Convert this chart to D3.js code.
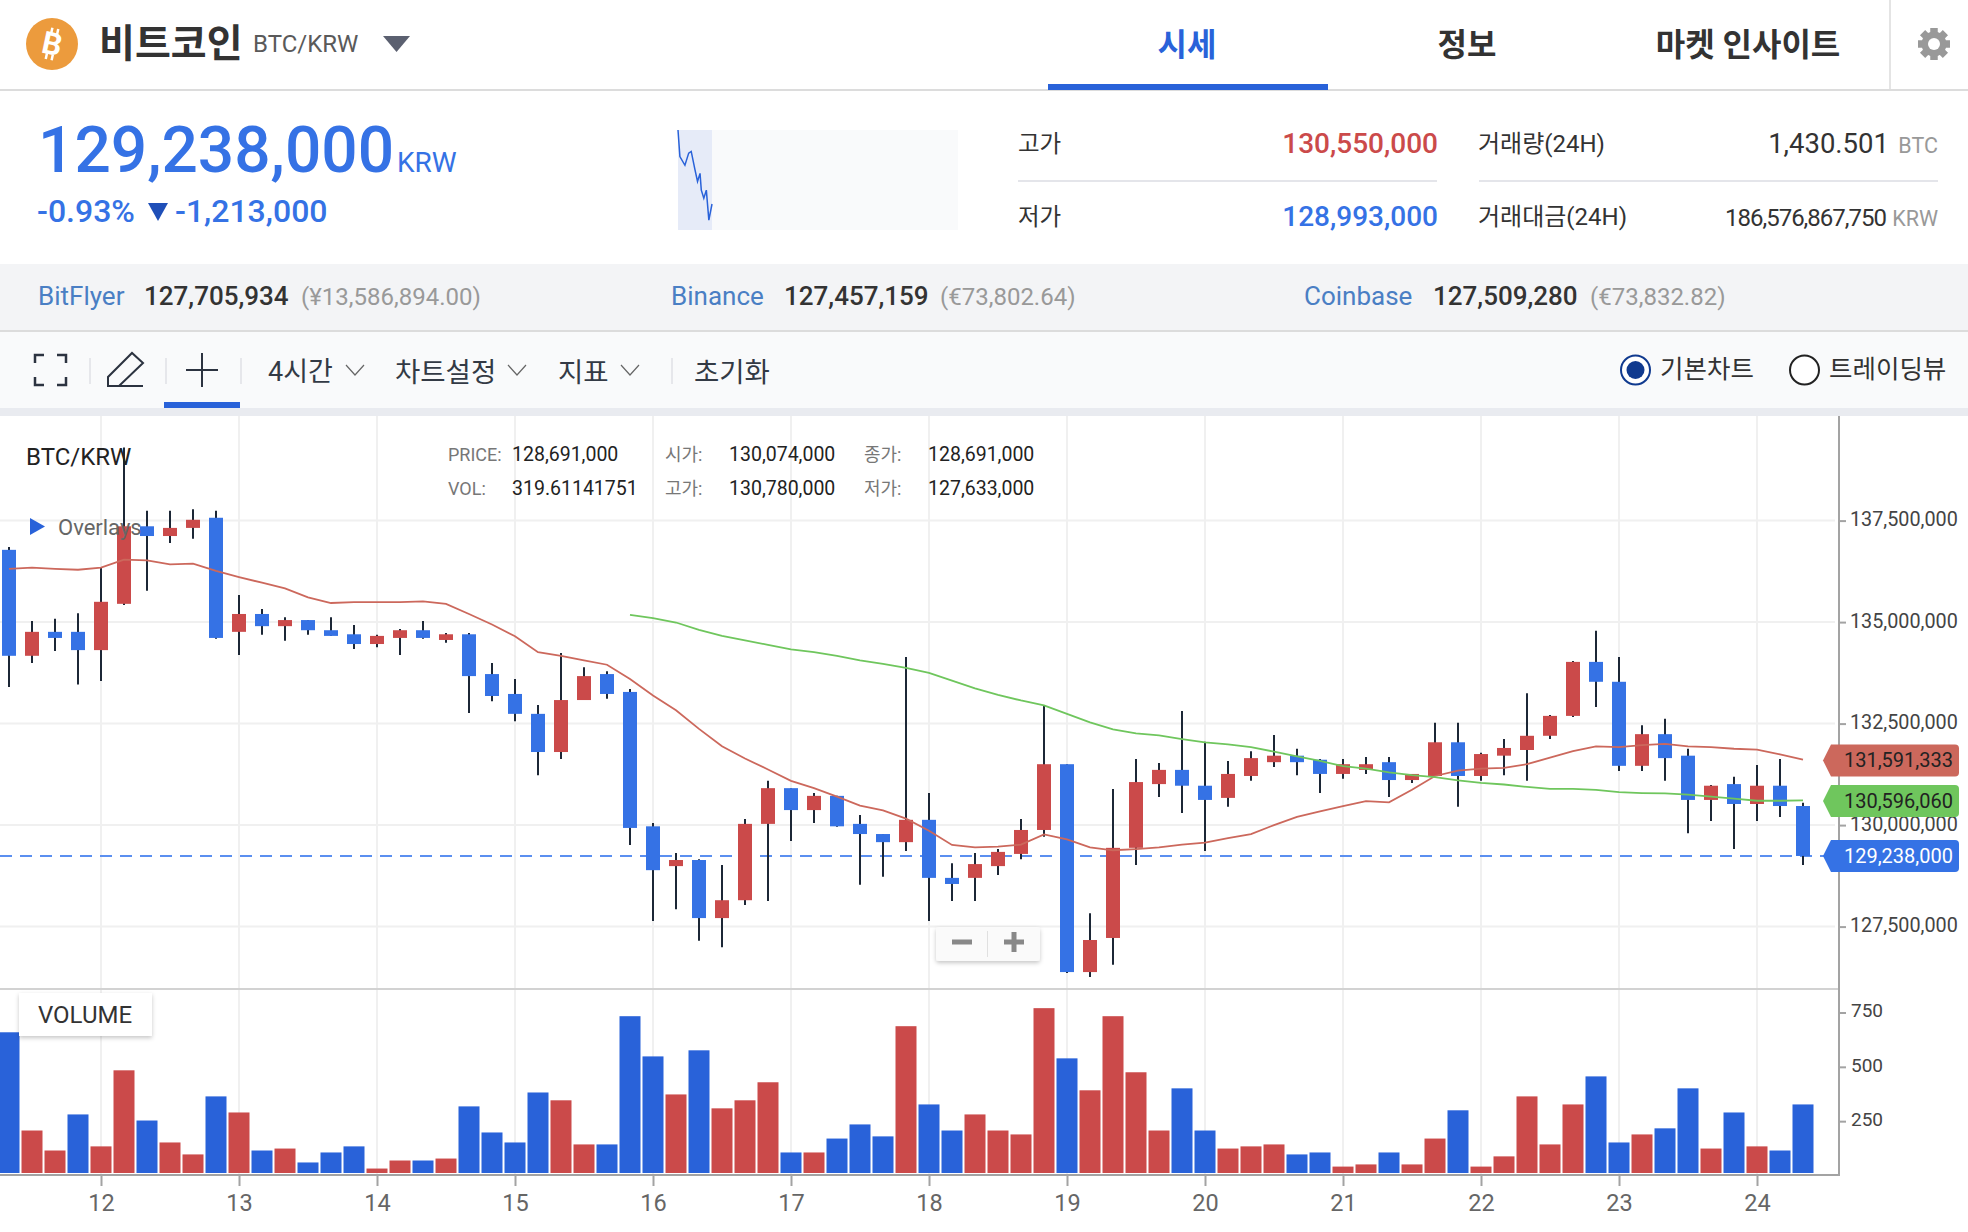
<!DOCTYPE html>
<html lang="ko">
  <head>
    <meta charset="UTF-8" />
    <title>BTC/KRW</title>
    <script src="https://d3js.org/d3.v7.min.js"></script>
    <style>
      html, body { margin: 0; padding: 0; background: #fff; }
      svg { display: block; }
      text { font-family: Roboto, "Noto Sans CJK KR", sans-serif; }
    </style>
  </head>
  <body>
    <div id="chart-container"></div>

    <script>
      // Candle values, millions of KRW, 4 hour candles
      const opens = [136.78,134.17,134.76,134.76,134.31,135.45,137.36,137.12,137.32,137.57,
        134.76,135.20,134.90,135.05,134.80,134.70,134.46,134.61,134.80,134.56,
        134.70,133.72,133.23,132.74,131.80,133.08,133.72,133.28,129.97,128.99,
        129.14,127.71,128.15,130.03,130.91,130.37,130.72,130.03,129.78,129.58,
        130.13,128.70,128.70,128.99,129.29,129.88,131.50,126.38,127.22,129.44,
        131.01,131.36,130.97,130.67,131.21,131.55,131.71,131.61,131.26,131.36,
        131.55,131.11,131.21,132.04,131.21,131.71,131.85,132.20,132.69,134.02,
        133.53,131.46,132.24,131.71,130.62,131.01,130.52,130.97,130.47];
      const closes = [134.17,134.76,134.61,134.31,135.50,137.36,137.12,137.32,137.52,134.61,
        135.20,134.90,135.05,134.80,134.66,134.46,134.66,134.80,134.61,134.70,
        133.67,133.18,132.74,131.80,133.08,133.67,133.23,129.93,128.89,129.14,
        127.71,128.15,130.03,130.91,130.37,130.72,129.97,129.78,129.58,130.13,
        128.70,128.55,129.04,129.34,129.88,131.50,126.38,127.17,129.44,131.06,
        131.36,130.97,130.62,131.26,131.65,131.71,131.55,131.26,131.50,131.50,
        131.11,131.26,132.04,131.21,131.75,131.90,132.20,132.69,134.02,133.53,
        131.46,132.24,131.65,130.62,130.97,130.52,130.97,130.47,129.24];
      const highs = [136.85,135.03,135.08,135.22,136.34,139.30,137.74,137.74,137.78,137.74,
        135.67,135.32,135.12,135.05,135.12,134.93,134.69,134.83,135.03,134.73,
        134.73,133.99,133.60,132.96,134.24,133.89,133.79,133.35,130.05,129.31,
        129.16,129.02,130.15,131.09,130.91,130.79,130.72,130.25,129.78,134.14,
        130.79,129.06,129.31,129.41,130.15,132.94,131.50,127.83,130.89,131.63,
        131.53,132.81,132.05,131.58,131.82,132.22,131.88,131.63,131.63,131.68,
        131.68,131.26,132.52,132.52,131.78,132.12,133.25,132.71,134.04,134.79,
        134.14,132.46,132.62,131.88,130.99,131.19,131.48,131.63,130.55];
      const lows = [133.40,133.99,134.29,133.46,133.55,135.42,135.77,136.95,137.05,134.59,
        134.19,134.69,134.54,134.69,134.66,134.34,134.38,134.19,134.59,134.49,
        132.76,133.05,132.56,131.23,131.63,133.08,133.11,129.51,127.64,127.93,
        127.15,126.99,128.03,128.13,129.61,130.05,129.96,128.53,128.73,129.36,
        127.64,128.13,128.13,128.77,129.16,129.71,126.36,126.26,126.56,129.02,
        130.69,130.30,129.36,130.45,131.09,131.43,131.23,130.79,131.14,131.26,
        130.69,131.04,131.21,130.45,131.09,131.23,131.09,132.12,132.66,132.91,
        131.33,131.33,131.09,129.80,130.10,129.41,130.10,130.20,129.02];

      // Moving averages, green one starts at candle 27
      const maShort = [136.31,136.34,136.31,136.29,136.34,136.54,136.52,136.42,136.44,136.26,
        136.11,135.97,135.83,135.61,135.47,135.49,135.49,135.49,135.51,135.45,
        135.20,134.94,134.65,134.26,134.17,134.06,133.95,133.60,133.19,132.83,
        132.37,131.94,131.64,131.37,131.09,130.91,130.70,130.48,130.36,130.16,
        129.86,129.51,129.45,129.47,129.52,129.77,129.65,129.45,129.38,129.41,
        129.45,129.52,129.57,129.68,129.78,130.00,130.20,130.34,130.47,130.59,
        130.56,130.87,131.21,131.34,131.39,131.41,131.50,131.66,131.82,131.94,
        131.92,131.97,132.00,131.94,131.92,131.88,131.86,131.74,131.61];
      const maLong = [135.18,135.10,134.99,134.81,134.66,134.55,134.44,134.33,134.26,134.17,
        134.06,133.97,133.87,133.75,133.56,133.37,133.21,133.07,132.95,132.74,
        132.53,132.36,132.26,132.21,132.12,132.04,131.99,131.92,131.81,131.69,
        131.58,131.45,131.39,131.30,131.23,131.18,131.10,131.04,131.00,130.94,
        130.89,130.89,130.87,130.81,130.79,130.78,130.75,130.70,130.65,130.60,
        130.60,130.61];
      const maLongStart = 27;

      const volumes = [659,207,115,281,134,484,253,152,97,364,
        290,115,124,60,106,134,32,69,69,78,
        318,198,152,382,346,143,143,733,548,373,
        576,309,346,429,106,106,170,235,180,687,
        327,207,281,207,189,770,539,392,733,475,
        207,401,207,124,134,143,97,106,41,51,
        106,51,170,300,41,88,364,143,327,456,
        152,189,217,401,124,290,134,115,327];
      const volumeUp = [0,1,1,0,1,1,0,1,1,0,1,0,1,0,0,0,1,1,0,1,
        0,0,0,0,1,1,0,0,0,1,0,1,1,1,0,1,0,0,0,1,
        0,0,1,1,1,1,0,1,1,1,1,0,0,1,1,1,0,0,1,1,
        0,1,1,0,1,1,1,1,1,0,0,1,0,0,1,0,1,0,0];

      const dayLabels = [12,13,14,15,16,17,18,19,20,21,22,23,24];
      const dayCandles = [4,10,16,22,28,34,40,46,52,58,64,70,76];
      const priceTicks = [127.5,130,132.5,135,137.5];
      const volumeTicks = [250,500,750];

      const lastShort = 131.591333;
      const lastLong = 130.59606;
      const lastPrice = 129.238;

      // Mini chart in the header
      const sparkTimes = [0,3,11,17,21,27,31,35,37,41,45,49,54];
      const sparkPrices = [130.55,130.09,129.94,130.15,130.18,129.86,129.66,129.80,129.51,129.37,129.51,128.99,129.27];

      const BLUE = "#3572e5";
      const DEEP_BLUE = "#2962d9";
      const RED = "#cb4a4a";
      const GRID = "#f0f0f0";
      const AXIS = "#a3a3a3";

      const svg = d3
        .select("#chart-container")
        .append("svg")
        .attr("width", 1968)
        .attr("height", 1232);

      const defs = svg.append("defs");
      const shadow = defs.append("filter").attr("id", "shadow").attr("x", "-20%").attr("y", "-20%").attr("width", "140%").attr("height", "150%");
      shadow.append("feDropShadow").attr("dx", 0).attr("dy", 2).attr("stdDeviation", 2).attr("flood-color", "#000").attr("flood-opacity", 0.22);

      function label(x, y, str, size, color, opts = {}) {
        return svg
          .append("text")
          .attr("x", x)
          .attr("y", y)
          .attr("font-size", size)
          .attr("fill", color)
          .attr("font-weight", opts.weight || 400)
          .attr("text-anchor", opts.anchor || "start")
          .attr("dominant-baseline", opts.middle ? "central" : "auto")
          .attr("letter-spacing", opts.spacing || 0)
          .text(str);
      }
      function box(x, y, w, h, fill) {
        return svg.append("rect").attr("x", x).attr("y", y).attr("width", w).attr("height", h).attr("fill", fill);
      }

      // Backgrounds of the page bands
      box(0, 89, 1968, 2, "#dcdcdc");
      box(0, 264, 1968, 66, "#f3f4f6");
      box(0, 330, 1968, 2, "#dcdcdc");
      box(0, 332, 1968, 76, "#f9fafb");
      box(0, 408, 1968, 8, "#e9ebf0");

      // Header: logo, name, tabs
      svg.append("ellipse").attr("cx", 52).attr("cy", 44).attr("rx", 26).attr("ry", 26).attr("fill", "#ec9b3d");
      const logo = svg.append("g").attr("transform", "translate(52,44) rotate(12)");
      logo.append("text").attr("text-anchor", "middle").attr("dominant-baseline", "central").attr("font-size", 31).attr("font-weight", 700).attr("fill", "#fff").text("B");
      logo.append("path").attr("d", "M-3,-16V-10M3,-16V-10M-3,10V16M3,10V16").attr("stroke", "#fff").attr("stroke-width", 2.5);

      label(99, 44, "비트코인", 39, "#333", { weight: 700, middle: true });
      label(253, 44, "BTC/KRW", 24, "#5a5a5a", { middle: true });
      svg.append("path").attr("d", "M383,36H410L396.5,52Z").attr("fill", "#5b6070");

      label(1187, 45, "시세", 32, DEEP_BLUE, { weight: 700, anchor: "middle", middle: true });
      label(1467, 45, "정보", 32, "#333", { weight: 700, anchor: "middle", middle: true });
      label(1748, 45, "마켓 인사이트", 32, "#333", { weight: 700, anchor: "middle", middle: true });
      box(1048, 84, 280, 6, DEEP_BLUE);
      box(1889, 0, 2, 89, "#e4e4e4");

      // Gear
      const gear = svg.append("g").attr("transform", "translate(1934,44)");
      d3.range(8).forEach((k) => {
        gear.append("rect").attr("x", -3.5).attr("y", -16).attr("width", 7).attr("height", 32).attr("fill", "#999").attr("transform", "rotate(" + k * 45 + ")");
      });
      gear.append("circle").attr("r", 9).attr("fill", "none").attr("stroke", "#999").attr("stroke-width", 7);
      gear.append("circle").attr("r", 6).attr("fill", "#fff");

      // Current price block
      label(38, 172, "129,238,000", 64, BLUE, { weight: 500 });
      label(397, 172, "KRW", 28, BLUE);
      label(37, 222, "-0.93%", 32, BLUE, { weight: 500 });
      svg.append("path").attr("d", "M148,203H168L158,221Z").attr("fill", "#1f4fb8");
      label(175, 222, "-1,213,000", 32, BLUE, { weight: 500 });

      // Mini chart
      box(678, 130, 280, 100, "#f9fafb");
      box(678, 130, 34, 100, "#e6ebf8");
      const sparkX = d3.scaleLinear().domain([0, 54]).range([678, 712]);
      const sparkY = d3.scaleLinear().domain([128.993, 130.55]).range([220, 130]);
      svg
        .append("path")
        .datum(sparkPrices)
        .attr("fill", "none")
        .attr("stroke", DEEP_BLUE)
        .attr("stroke-width", 1.5)
        .attr("d", d3.line().x((d, i) => sparkX(sparkTimes[i])).y((d) => sparkY(d)));

      // Day statistics
      label(1018, 144, "고가", 23.5, "#333", { middle: true });
      label(1438, 153, "130,550,000", 28, RED, { weight: 500, anchor: "end" });
      label(1018, 217, "저가", 23.5, "#333", { middle: true });
      label(1438, 226, "128,993,000", 28, BLUE, { weight: 500, anchor: "end" });
      box(1018, 180, 419, 2, "#e4e5ea");
      label(1478, 144, "거래량(24H)", 24, "#333", { middle: true });
      label(1889, 153, "1,430.501", 27.5, "#333", { anchor: "end" });
      label(1938, 153, "BTC", 21.5, "#999", { anchor: "end" });
      box(1479, 180, 459, 2, "#e4e5ea");
      label(1478, 217, "거래대금(24H)", 24, "#333", { middle: true });
      label(1886, 226, "186,576,867,750", 24, "#333", { anchor: "end", spacing: -1 });
      label(1938, 226, "KRW", 21.5, "#999", { anchor: "end" });

      // Other exchanges
      label(38, 305, "BitFlyer", 26, "#4a7fc4");
      label(144, 305, "127,705,934", 26, "#333", { weight: 500 });
      label(301, 305, "(¥13,586,894.00)", 24, "#999");
      label(671, 305, "Binance", 26, "#4a7fc4");
      label(784, 305, "127,457,159", 26, "#333", { weight: 500 });
      label(940, 305, "(€73,802.64)", 24, "#999");
      label(1304, 305, "Coinbase", 26, "#4a7fc4");
      label(1433, 305, "127,509,280", 26, "#333", { weight: 500 });
      label(1590, 305, "(€73,832.82)", 24, "#999");

      // Toolbar icons and menus
      const iconStroke = { fill: "none", stroke: "#2c3340", "stroke-width": 2 };
      function icon(d, width, color) {
        const p = svg.append("path").attr("d", d);
        Object.entries(iconStroke).forEach(([k, v]) => p.attr(k, v));
        if (width) p.attr("stroke-width", width);
        if (color) p.attr("stroke", color);
      }
      icon("M35,363V355H44M57,355H66V363M66,377V385H57M44,385H35V377", 2.5);
      icon("M108,386V377L132,353L143,363L119,386ZM108,386H143");
      icon("M186,370H218M202,353V387");
      [89, 165, 240, 671].forEach((x) => box(x, 358, 2, 26, "#e6e7eb"));
      box(164, 402, 76, 6, DEEP_BLUE);
      label(268, 372, "4시간", 27, "#333a45", { middle: true });
      icon("M346,365L355,375L364,365", 1.2, "#666");
      label(395, 372, "차트설정", 27.5, "#333a45", { middle: true });
      icon("M508,365L517,375L526,365", 1.2, "#666");
      label(558, 372, "지표", 27.5, "#333a45", { middle: true });
      icon("M621,365L630,375L639,365", 1.2, "#666");
      label(694, 372, "초기화", 27.5, "#333a45", { middle: true });

      svg.append("circle").attr("cx", 1635.5).attr("cy", 370).attr("r", 14.5).attr("fill", "#fff").attr("stroke", "#103a8f").attr("stroke-width", 2);
      svg.append("circle").attr("cx", 1635.5).attr("cy", 370).attr("r", 9).attr("fill", "#103a8f");
      label(1660, 369, "기본차트", 25.5, "#333", { middle: true });
      svg.append("circle").attr("cx", 1804.5).attr("cy", 370).attr("r", 14.5).attr("fill", "#fff").attr("stroke", "#222").attr("stroke-width", 2);
      label(1829, 369, "트레이딩뷰", 25.5, "#333", { middle: true });

      // Scales
      const xScale = d3.scaleLinear().domain([0, 78]).range([9, 1803]);
      const yScale = d3.scaleLinear().domain([127.5, 137.5]).range([926.6, 520.6]);
      const volScale = d3.scaleLinear().domain([0, 750]).range([1175.5, 1012.5]);

      const PLOT_RIGHT = 1839;
      const PANEL_LINE = 989;
      const VOL_BOTTOM = 1175;

      // Grid
      svg
        .append("g")
        .selectAll("line")
        .data(dayCandles)
        .enter()
        .append("line")
        .attr("x1", (d) => xScale(d))
        .attr("x2", (d) => xScale(d))
        .attr("y1", 416)
        .attr("y2", VOL_BOTTOM)
        .attr("stroke", GRID)
        .attr("stroke-width", 2);
      svg
        .append("g")
        .selectAll("line")
        .data(priceTicks)
        .enter()
        .append("line")
        .attr("x1", 0)
        .attr("x2", 1835)
        .attr("y1", (d) => yScale(d))
        .attr("y2", (d) => yScale(d))
        .attr("stroke", GRID)
        .attr("stroke-width", 2);
      box(0, PANEL_LINE - 1, PLOT_RIGHT, 2, "#d2d2d2");

      // Last price line
      svg
        .append("line")
        .attr("x1", 0)
        .attr("x2", 1824)
        .attr("y1", yScale(lastPrice))
        .attr("y2", yScale(lastPrice))
        .attr("stroke", "#5b8ff0")
        .attr("stroke-width", 2)
        .attr("stroke-dasharray", "12,8");

      // Candles
      const candles = svg.append("g").selectAll("g").data(opens).enter().append("g");
      candles
        .append("line")
        .attr("x1", (d, i) => xScale(i))
        .attr("x2", (d, i) => xScale(i))
        .attr("y1", (d, i) => yScale(highs[i]))
        .attr("y2", (d, i) => yScale(lows[i]))
        .attr("stroke", "#1c2736")
        .attr("stroke-width", 2);
      candles
        .append("rect")
        .attr("x", (d, i) => xScale(i) - 7)
        .attr("width", 14)
        .attr("y", (d, i) => yScale(Math.max(d, closes[i])))
        .attr("height", (d, i) => Math.abs(yScale(d) - yScale(closes[i])))
        .attr("fill", (d, i) => (closes[i] > d ? RED : BLUE));

      // Moving average lines
      const maLine = d3.line().x((d) => xScale(d[0])).y((d) => yScale(d[1]));
      svg
        .append("path")
        .datum(maShort.map((d, i) => [i, d]))
        .attr("fill", "none")
        .attr("stroke", "#cc685c")
        .attr("stroke-width", 1.8)
        .attr("d", maLine);
      svg
        .append("path")
        .datum(maLong.map((d, i) => [i + maLongStart, d]))
        .attr("fill", "none")
        .attr("stroke", "#6fc65d")
        .attr("stroke-width", 1.8)
        .attr("d", maLine);

      // Volume bars
      svg
        .append("g")
        .selectAll("rect")
        .data(volumes)
        .enter()
        .append("rect")
        .attr("x", (d, i) => xScale(i) - 10.5)
        .attr("width", 21)
        .attr("y", (d) => volScale(d))
        .attr("height", (d) => VOL_BOTTOM - 2 - volScale(d))
        .attr("fill", (d, i) => (volumeUp[i] ? RED : DEEP_BLUE));

      // Axes
      const formatKrw = (d) => d3.format(",")(Math.round(d * 1e6));
      const priceAxis = svg
        .append("g")
        .attr("transform", "translate(" + PLOT_RIGHT + ",0)")
        .call(d3.axisRight(yScale).tickValues(priceTicks).tickFormat(formatKrw).tickSize(7).tickPadding(4));
      const volumeAxis = svg
        .append("g")
        .attr("transform", "translate(" + PLOT_RIGHT + ",0)")
        .call(d3.axisRight(volScale).tickValues(volumeTicks).tickSize(7).tickPadding(5));
      const dayAxis = svg
        .append("g")
        .attr("transform", "translate(0," + VOL_BOTTOM + ")")
        .call(d3.axisBottom(xScale).tickValues(dayCandles).tickFormat((d, i) => dayLabels[i]).tickSize(11).tickPadding(8));
      [priceAxis, volumeAxis, dayAxis].forEach((g) => {
        g.select(".domain").remove();
        g.selectAll("line").attr("stroke", AXIS).attr("stroke-width", 2);
        g.selectAll("text").attr("fill", "#444").style("font-family", 'Roboto, sans-serif');
      });
      priceAxis.selectAll("text").attr("font-size", 19.8).attr("dy", "0.25em");
      volumeAxis.selectAll("text").attr("font-size", 19).attr("dy", "0.22em");
      dayAxis.selectAll("text").attr("font-size", 23.5).attr("fill", "#666");
      box(PLOT_RIGHT - 1, 416, 2, VOL_BOTTOM - 415, AXIS);
      box(0, VOL_BOTTOM - 1, PLOT_RIGHT, 2, AXIS);

      // Value tags on the price axis
      function priceTag(value, fill, color) {
        const y = yScale(value);
        svg
          .append("path")
          .attr("d", "M1823," + y + "L1831," + (y - 16) + "H1955Q1959," + (y - 16) + " 1959," + (y - 12) + "V" + (y + 12) + "Q1959," + (y + 16) + " 1955," + (y + 16) + "H1831Z")
          .attr("fill", fill);
        label(1953, y, formatKrw(value), 20, color, { anchor: "end", middle: true });
      }
      priceTag(lastShort, "#cc685c", "#222");
      priceTag(lastLong, "#6fc65d", "#222");
      priceTag(lastPrice, BLUE, "#fff");

      // Legend texts over the plot
      label(26, 457, "BTC/KRW", 24, "#222", { middle: true });
      svg.append("path").attr("d", "M30,518L45,526.5L30,535Z").attr("fill", DEEP_BLUE);
      label(58, 527, "Overlays", 22, "#666", { middle: true });
      label(448, 454, "PRICE:", 18, "#777", { middle: true });
      label(512, 454, "128,691,000", 19.5, "#222", { middle: true });
      label(448, 488, "VOL:", 18, "#777", { middle: true });
      label(512, 488, "319.61141751", 19.5, "#222", { middle: true });
      label(665, 454, "시가:", 18, "#777", { middle: true });
      label(729, 454, "130,074,000", 19.5, "#222", { middle: true });
      label(665, 488, "고가:", 18, "#777", { middle: true });
      label(729, 488, "130,780,000", 19.5, "#222", { middle: true });
      label(864, 454, "종가:", 18, "#777", { middle: true });
      label(928, 454, "128,691,000", 19.5, "#222", { middle: true });
      label(864, 488, "저가:", 18, "#777", { middle: true });
      label(928, 488, "127,633,000", 19.5, "#222", { middle: true });

      // VOLUME badge
      svg.append("rect").attr("x", 19).attr("y", 993).attr("width", 133).attr("height", 43).attr("fill", "#fff").attr("filter", "url(#shadow)");
      label(85, 1015, "VOLUME", 24, "#333", { anchor: "middle", middle: true });

      // Zoom buttons
      svg.append("rect").attr("x", 936).attr("y", 927).attr("width", 104).attr("height", 34).attr("rx", 3).attr("fill", "#fafafa").attr("filter", "url(#shadow)");
      box(987, 931, 1, 26, "#e0e0e0");
      box(952, 939.5, 20, 5, "#888");
      box(1004, 939.5, 20, 5, "#888");
      box(1011.5, 932, 5, 20, "#888");
    </script>
  </body>
</html>
